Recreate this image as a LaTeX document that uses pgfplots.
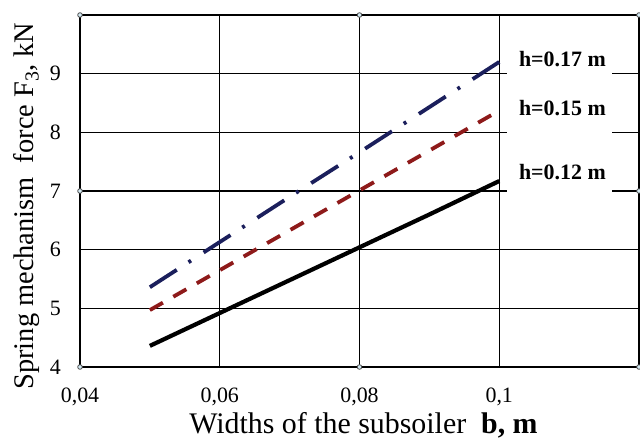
\documentclass[border=0pt]{standalone}
\usepackage{pgfplots}
\pgfplotsset{compat=1.18}
\usepackage{fontspec}
\setmainfont{Liberation Serif}

\definecolor{navy}{HTML}{1B1F5C}
\definecolor{darkred}{HTML}{8E1A1A}
\definecolor{handle}{HTML}{D4EAF3}

\begin{document}
\begin{tikzpicture}
\begin{axis}[
    scale only axis,
    width=559bp, height=352bp,
    xmin=0.04, xmax=0.12,
    ymin=4, ymax=10,
    xtick={0.04,0.06,0.08,0.1,0.12},
    xticklabels={{0,04},{0,06},{0,08},{0,1},{}},
    ytick={4,5,6,7,8,9,10},
    yticklabels={4,5,6,7,8,9,{}},
    major tick length=0pt,
    grid=major,
    grid style={black, line width=1.4bp},
    axis line style={black, line width=1.6bp},
    tick label style={font=\fontsize{22}{26}\selectfont},
    xticklabel style={anchor=base, yshift=-35bp},
    yticklabel style={anchor=east, inner sep=0pt, xshift=-19bp},
    xlabel={Widths of the subsoiler\ \ \textbf{b, m}},
    ylabel={Spring mechanism\hspace{0.25em} force F\textsubscript{3}, kN},
    xlabel style={font=\fontsize{30}{36}\selectfont,
        at={(axis description cs:0.5,0)}, anchor=base, yshift=-66bp, xshift=4bp},
    ylabel style={font=\fontsize{28.5}{34}\selectfont,
        at={(axis description cs:0,0.5)}, rotate=0, anchor=base,
        yshift=46bp, xshift=-15bp},
    clip=false,
]

% h = 0.12 m
\addplot[black, line width=4.2bp] coordinates {
    (0.05,4.36) (0.06,4.92) (0.07,5.48) (0.08,6.04) (0.09,6.60) (0.1,7.17)
};

% h = 0.15 m
\addplot[darkred, line width=3.8bp, dash pattern=on 15bp off 12bp] coordinates {
    (0.05,4.97) (0.06,5.65) (0.07,6.33) (0.08,7.01) (0.09,7.69) (0.1,8.37)
};

% h = 0.17 m
\addplot[navy, line width=3.8bp, dash pattern=on 32bp off 14bp on 3bp off 15bp] coordinates {
    (0.05,5.36) (0.06,6.13) (0.07,6.90) (0.08,7.66) (0.09,8.43) (0.1,9.20)
};

% white box behind the curve names
\fill[white] (axis cs:0.1011,6.93) rectangle (axis cs:0.1161,9.57);
\node[anchor=base west, font=\bfseries\fontsize{22}{26}\selectfont, inner sep=0pt]
    at (axis cs:0.1028,9.13) {h=0.17 m};
\node[anchor=base west, font=\bfseries\fontsize{22}{26}\selectfont, inner sep=0pt]
    at (axis cs:0.1028,8.28) {h=0.15 m};
\node[anchor=base west, font=\bfseries\fontsize{22}{26}\selectfont, inner sep=0pt]
    at (axis cs:0.1028,7.19) {h=0.12 m};

% selection handles on the frame
\addplot[only marks, mark=*, mark size=2.3bp,
    mark options={fill=handle, draw=black!70, line width=0.8bp}] coordinates {
    (0.04,4) (0.08,4) (0.12,4) (0.04,10) (0.08,10) (0.12,10) (0.04,7) (0.12,7)
};
\end{axis}
\pgfresetboundingbox
\path[use as bounding box] (-80bp,-73bp) rectangle (560bp,367bp);
\end{tikzpicture}
\end{document}
